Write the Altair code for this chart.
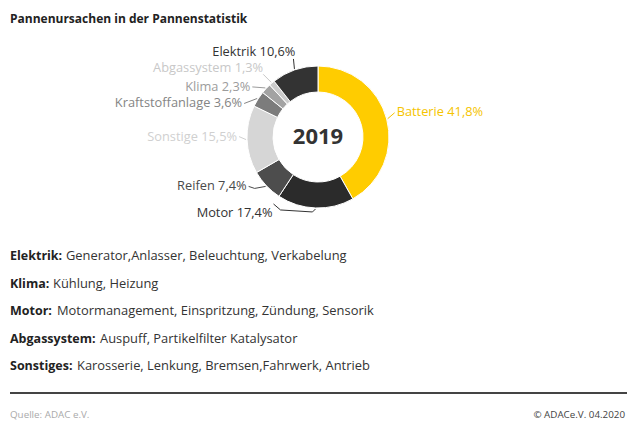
import altair as alt
import pandas as pd
import numpy as np

# ---- data ----
categories = ["Batterie", "Motor", "Reifen", "Sonstige", "Kraftstoffanlage", "Klima", "Abgassystem", "Elektrik"]
values = [41.8, 17.4, 7.4, 15.5, 3.6, 2.3, 1.3, 10.6]
value_labels = ["41,8%", "17,4%", "7,4%", "15,5%", "3,6%", "2,3%", "1,3%", "10,6%"]
year = "2019"
title_text = "Pannenursachen in der Pannenstatistik"
notes_bold = ["Elektrik:", "Klima:", "Motor:", "Abgassystem:", "Sonstiges:"]
notes_text = ["Generator,Anlasser, Beleuchtung, Verkabelung", "Kühlung, Heizung",
              "Motormanagement, Einspritzung, Zündung, Sensorik",
              "Auspuff, Partikelfilter Katalysator",
              "Karosserie, Lenkung, Bremsen,Fahrwerk, Antrieb"]
source_text = "Quelle: ADAC e.V."
credit_text = "© ADACe.V. 04.2020"

# ---- style / layout ----
FONT = "Open Sans"
seg_colors = ["#ffcc00", "#2b2b2b", "#4d4d4d", "#d6d6d6", "#7c7c7c", "#a3a3a3", "#cbcbcb", "#333333"]
label_colors = ["#f5c400", "#333333", "#4a4a4a", "#d0d0d0", "#858585", "#9c9c9c", "#c8c8c8", "#333333"]
CX, CY, R_OUT, R_IN = 310, 129, 71, 45
# label anchor offset from ring point, and alignment
label_off = [(9, -7), (-43, 4), (-19, 0), (-9, -3), (-15, 5), (-15, -1), (-8, -14), (1, -17)]
label_align = ["left", "right", "right", "right", "right", "right", "right", "right"]
# leader polyline points relative to the label anchor (before reaching the ring)
leader_pts = [[(-2, 1)], [(1, -9), (8, -3), (40, -1)], [(2, 0), (8, 2)], [(2, 0)], [(2, 0)], [(2, 0)],
              [(0, 6)], [(-2, 7)]]
note_y = [248, 276, 303, 331, 358]
note_x2 = [58, 45, 49, 92, 69]

# ---- derived ----
tot = sum(values)
cum = np.cumsum([0] + values)
mid = [(cum[i] + values[i] / 2) / tot * 2 * np.pi for i in range(len(values))]

arc_df = pd.DataFrame({"cat": categories, "value": values, "order": range(len(values)), "color": seg_colors})

lab_rows, lead_rows = [], []
for i, c in enumerate(categories):
    rx = CX + (R_OUT + 1) * np.sin(mid[i])
    ry = CY - (R_OUT + 1) * np.cos(mid[i])
    ax, ay = rx + label_off[i][0], ry + label_off[i][1]
    lab_rows.append({"x": ax, "y": ay, "text": f"{c} {value_labels[i]}", "color": label_colors[i],
                     "al": label_align[i]})
    seq = 0
    for (dx, dy) in leader_pts[i]:
        lead_rows.append({"cat": c, "seq": seq, "x": ax + dx, "y": ay + dy, "color": label_colors[i]})
        seq += 1
    lead_rows.append({"cat": c, "seq": seq, "x": rx, "y": ry, "color": label_colors[i]})
lab_df = pd.DataFrame(lab_rows)
lead_df = pd.DataFrame(lead_rows)

X = lambda f="x": alt.X(f"{f}:Q", scale=None, axis=None)
Y = lambda f="y": alt.Y(f"{f}:Q", scale=None, axis=None)

donut = alt.Chart(arc_df).mark_arc(outerRadius=R_OUT, innerRadius=R_IN, stroke="white", strokeWidth=1).encode(
    theta=alt.Theta("value:Q", stack=True),
    order=alt.Order("order:Q"),
    color=alt.Color("color:N", scale=None),
    x=alt.value(CX), y=alt.value(CY),
)

center = alt.Chart(pd.DataFrame({"t": [year]})).mark_text(
    font=FONT, fontSize=22, fontWeight="bold", color="#333333", baseline="middle", align="center"
).encode(text="t:N", x=alt.value(CX), y=alt.value(CY))

leaders = alt.Chart(lead_df).mark_line(strokeWidth=1).encode(
    x=X(), y=Y(), detail="cat:N", order="seq:Q", color=alt.Color("color:N", scale=None)
)

lab_left = alt.Chart(lab_df[lab_df["al"] == "left"]).mark_text(
    font=FONT, fontSize=12.8, align="left", baseline="middle"
).encode(x=X(), y=Y(), text="text:N", color=alt.Color("color:N", scale=None))
lab_right = alt.Chart(lab_df[lab_df["al"] == "right"]).mark_text(
    font=FONT, fontSize=12.8, align="right", baseline="middle"
).encode(x=X(), y=Y(), text="text:N", color=alt.Color("color:N", scale=None))

title = alt.Chart(pd.DataFrame({"t": [title_text]})).mark_text(
    font=FONT, fontSize=12, fontWeight="bold", color="#222222", align="left", baseline="middle"
).encode(text="t:N", x=alt.value(2), y=alt.value(11))

notes_df = pd.DataFrame({"b": notes_bold, "t": notes_text, "y": note_y, "x2": note_x2})
notes_b = alt.Chart(notes_df).mark_text(
    font=FONT, fontSize=12.5, fontWeight="bold", color="#222222", align="left", baseline="middle"
).encode(text="b:N", x=alt.value(2), y=Y())
notes_t = alt.Chart(notes_df).mark_text(
    font=FONT, fontSize=12.9, color="#333333", align="left", baseline="middle"
).encode(text="t:N", x=X("x2"), y=Y())

rule = alt.Chart(pd.DataFrame({"a": [0]})).mark_rule(color="#444444", strokeWidth=2).encode(
    x=alt.value(2), x2=alt.value(619), y=alt.value(385)
)
src = alt.Chart(pd.DataFrame({"t": [source_text]})).mark_text(
    font=FONT, fontSize=9.8, color="#aaaaaa", align="left", baseline="middle"
).encode(text="t:N", x=alt.value(2), y=alt.value(407))
cred = alt.Chart(pd.DataFrame({"t": [credit_text]})).mark_text(
    font=FONT, fontSize=9.8, color="#444444", align="right", baseline="middle"
).encode(text="t:N", x=alt.value(617), y=alt.value(407))

chart = alt.layer(donut, center, leaders, lab_left, lab_right, title, notes_b, notes_t, rule, src, cred).properties(
    width=624, height=418, padding=0, autosize="none"
).configure_view(stroke=None)

chart.save("out.html", embed_options={"renderer": "svg", "actions": False})
